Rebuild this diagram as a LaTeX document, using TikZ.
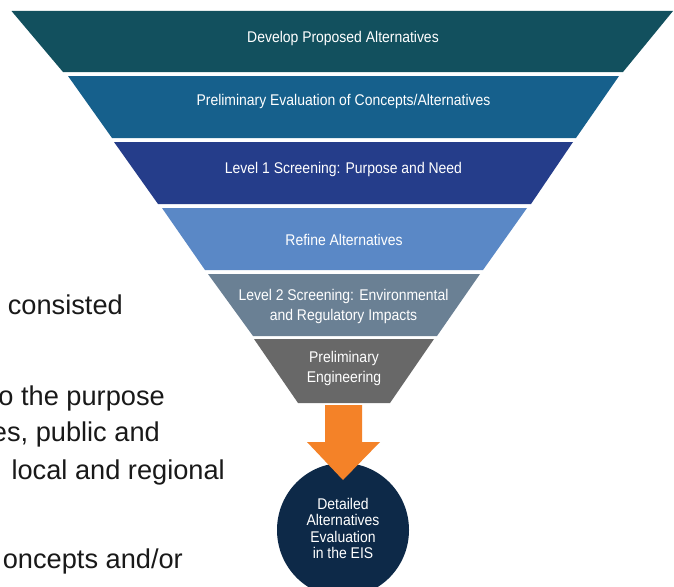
\documentclass[tikz,border=0pt]{standalone}
\usepackage{fontspec}
\setmainfont{Liberation Sans}
\definecolor{bandA}{HTML}{12505E}
\definecolor{bandB}{HTML}{16608C}
\definecolor{bandC}{HTML}{253D8A}
\definecolor{bandD}{HTML}{5A88C6}
\definecolor{bandE}{HTML}{6A8094}
\definecolor{bandF}{HTML}{686868}
\definecolor{arroworange}{HTML}{F48228}
\definecolor{navy}{HTML}{0D2948}
\begin{document}
\begin{tikzpicture}[x=1pt,y=-1pt,
  bandtext/.style={text=white, font=\fontsize{15.5}{18}\selectfont, xscale=0.9, anchor=base, inner sep=0pt},
  bodytext/.style={anchor=base east, inner sep=0pt, font=\fontsize{27.2}{30}\selectfont, text=black!90}]
\useasboundingbox (0,0) rectangle (674,586);
\fill[white] (0,0) rectangle (674,586);
% funnel bands
\fill[bandA] (11.5,11) -- (673,11) -- (623,72) -- (63,72) -- cycle;
\fill[bandB] (68,76) -- (619,76) -- (576,138) -- (112,138) -- cycle;
\fill[bandC] (114,142) -- (573,142) -- (531,204) -- (158,204) -- cycle;
\fill[bandD] (162,208) -- (527,208) -- (483,270) -- (205,270) -- cycle;
\fill[bandE] (208,274) -- (480,274) -- (437,336) -- (253,336) -- cycle;
\fill[bandF] (254,339) -- (434,339) -- (390,403) -- (298,403) -- cycle;
% band labels
\node[bandtext] (t1) at (343,42) {Develop Proposed Alternatives};
\node[bandtext] (t2) at (343.5,105.5) {Preliminary Evaluation of Concepts/Alternatives};
\node[bandtext] (t3) at (343.5,173.5) {Level 1 Screening: Purpose and Need};
\node[bandtext] (t4) at (344,245) {Refine Alternatives};
\node[bandtext] (t5a) at (343.5,300.5) {Level 2 Screening: Environmental};
\node[bandtext] (t5b) at (343.5,320.5) {and Regulatory Impacts};
\node[bandtext] (t6a) at (344,362) {Preliminary};
\node[bandtext] (t6b) at (344,382) {Engineering};
% final circle
\fill[navy] (343,530) ellipse [x radius=66pt, y radius=67pt];
\coordinate (circ) at (343,530);
% orange arrow
\fill[arroworange] (325,405) -- (362,405) -- (362,442) -- (380,442) -- (343,480) -- (307,442) -- (325,442) -- cycle;
\node[bandtext] (c1) at (343,509) {Detailed};
\node[bandtext] (c2) at (343,525.5) {Alternatives};
\node[bandtext] (c3) at (343,542) {Evaluation};
\node[bandtext] (c4) at (343,558.5) {in the EIS};
% body text fragments
\node[bodytext] (p1) at (123,314) {consisted};
\node[bodytext] (p2) at (165,405) {o the purpose};
\node[bodytext] (p3) at (160,441) {es, public and};
\node[bodytext] (p4) at (225,479) {local and regional};
\node[bodytext] (p5) at (183,568) {oncepts and/or};
\end{tikzpicture}
\end{document}
